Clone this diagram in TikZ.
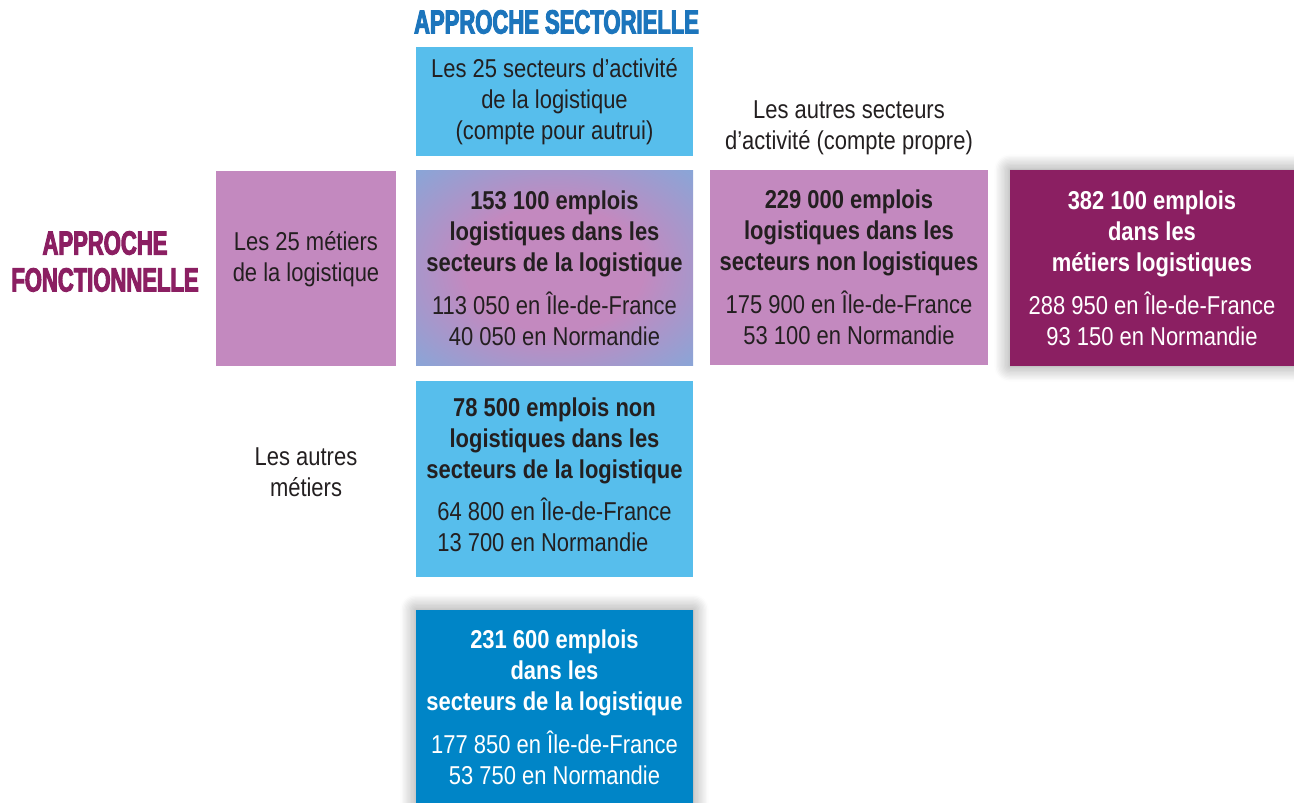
\documentclass[tikz,border=0pt]{standalone}
\usepackage{fontspec}
\setmainfont{Liberation Sans}[FakeStretch=0.85]
\newfontfamily\headfont{Liberation Sans}[FakeStretch=0.66,FakeBold=3]
\usetikzlibrary{positioning,shadows.blur}
\usepackage{xcolor}
\definecolor{skyblue}{RGB}{87,190,236}
\definecolor{mauve}{RGB}{195,137,191}
\definecolor{plum}{RGB}{139,31,98}
\definecolor{deepblue}{RGB}{0,133,199}
\definecolor{titleblue}{RGB}{28,117,188}
\definecolor{ink}{RGB}{35,31,32}
\colorlet{lavender}{mauve!45!skyblue}
\pgfdeclareradialshading{mixshade}{\pgfpoint{0bp}{0bp}}{color(0bp)=(mauve);color(16bp)=(mauve);color(36bp)=(lavender);color(50bp)=(skyblue)}
\newcommand{\bodyfont}{\fontsize{14.7}{17.6}\selectfont}
\newcommand{\headsize}{\headfont\bfseries\fontsize{19}{21}\selectfont}

\begin{document}
\begin{tikzpicture}[
    box/.style={rectangle, inner sep=0pt, minimum width=5.54cm, minimum height=3.9cm,
               align=center, font=\bodyfont, text=ink},
    light/.style={box, fill=skyblue},
    pink/.style={box, fill=mauve},
    total/.style={box, text=white,
               blur shadow={shadow xshift=0pt, shadow yshift=0pt, shadow scale=1,
                            shadow blur radius=9pt, shadow blur steps=12, shadow opacity=45}},
    txt/.style={align=center, font=\bodyfont, text=ink, inner sep=0pt},
    head/.style={align=center, font=\headsize, inner sep=0pt}
]
    \useasboundingbox (0,0) rectangle (25.88,-16.06);

    % Headings of both approaches
    \node[head, text=titleblue] (sect) at (11.13,-0.44) {APPROCHE SECTORIELLE};
    \node[head, text=plum]      (fonc) at (2.1,-5.23)   {APPROCHE\\FONCTIONNELLE};

    % Column and row labels
    \node[light, minimum height=2.18cm] (sec25) at (11.09,-2.03)
        {Les 25 secteurs d’activité\\de la logistique\\(compte pour autrui)};
    \node[txt] (autsec) at (16.98,-2.56) {Les autres secteurs\\d’activité (compte propre)};
    \node[pink, minimum width=3.6cm] (met25) at (6.12,-5.37) {};
    \node[txt] (met25txt) at ([yshift=0.19cm]met25.center) {Les 25 métiers\\de la logistique};
    \node[txt] (autmet) at (6.12,-9.44) {Les autres\\métiers};

    % Cross table
    \node[box, shading=mixshade] (mix) at (11.09,-5.37)
        {\textbf{153 100 emplois}\\\textbf{logistiques dans les}\\\textbf{secteurs de la logistique}\\[7pt]
         113 050 en Île-de-France\\40 050 en Normandie};
    \node[pink, minimum width=5.56cm] (nonlog) at (16.98,-5.35)
        {\textbf{229 000 emplois}\\\textbf{logistiques dans les}\\\textbf{secteurs non logistiques}\\[7pt]
         175 900 en Île-de-France\\53 100 en Normandie};
    \node[light, minimum height=3.92cm] (other) at (11.09,-9.58)
        {\textbf{78 500 emplois non}\\\textbf{logistiques dans les}\\\textbf{secteurs de la logistique}\\[7pt]
         \begin{tabular}{@{}l@{}}64 800 en Île-de-France\\13 700 en Normandie\end{tabular}};

    % Totals
    \node[total, fill=plum, minimum width=5.68cm, minimum height=3.92cm] (totmet) at (23.04,-5.36)
        {\textbf{382 100 emplois}\\\textbf{dans les}\\\textbf{métiers logistiques}\\[7pt]
         288 950 en Île-de-France\\93 150 en Normandie};
    \node[total, fill=deepblue] (totsec) at (11.09,-14.15)
        {\textbf{231 600 emplois}\\\textbf{dans les}\\\textbf{secteurs de la logistique}\\[7pt]
         177 850 en Île-de-France\\53 750 en Normandie};
\end{tikzpicture}
\end{document}
